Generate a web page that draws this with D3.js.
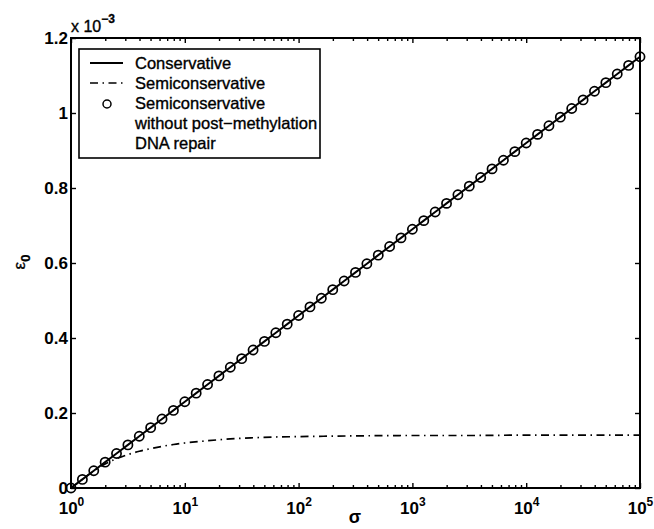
<!DOCTYPE html>
<html>
<head>
<meta charset="utf-8">
<script src="https://cdn.jsdelivr.net/npm/d3@7"></script>
<style>
  body { margin: 0; background: #fff; }
  svg { display: block; font-family: "Liberation Sans", Arial, sans-serif; }
</style>
</head>
<body>
<svg width="654" height="529"></svg>
<script>
// sigma exponents (log10) and epsilon_0 values, in units of 1e-3
var consExp = [0,0.1,0.2,0.3,0.4,0.5,0.6,0.7,0.8,0.9,1,1.1,1.2,1.3,1.4,1.5,1.6,1.7,1.8,1.9,
  2,2.1,2.2,2.3,2.4,2.5,2.6,2.7,2.8,2.9,3,3.1,3.2,3.3,3.4,3.5,3.6,3.7,3.8,3.9,
  4,4.1,4.2,4.3,4.4,4.5,4.6,4.7,4.8,4.9,5];
var consVal = [0,0.023,0.046,0.069,0.092,0.115,0.138,0.161,0.184,0.207,0.230,0.253,0.276,0.299,0.322,0.345,0.368,0.391,0.414,0.437,
  0.460,0.483,0.506,0.529,0.552,0.575,0.598,0.621,0.644,0.667,0.690,0.713,0.736,0.759,0.782,0.805,0.828,0.851,0.874,0.897,
  0.920,0.943,0.966,0.989,1.012,1.035,1.058,1.081,1.104,1.127,1.150];
// semiconservative without repair: same as conservative (markers)
var semiNoRepairVal = consVal;
var semiExp = [0,0.1,0.2,0.3,0.4,0.5,0.6,0.7,0.8,0.9,1.0,1.2,1.4,1.6,1.8,2.0,2.5,3.0,3.5,4.0,4.5,5.0];
var semiVal = [0,0.023,0.045,0.064,0.078,0.089,0.098,0.105,0.111,0.116,0.120,0.126,0.131,0.134,0.136,0.137,0.139,0.140,0.140,0.141,0.141,0.141];

var yTicks = [0,0.2,0.4,0.6,0.8,1,1.2];
var yTickLabels = ["0","0.2","0.4","0.6","0.8","1","1.2"];
var xTicks = [1,10,100,1000,10000,100000];
var xTickExp = ["0","1","2","3","4","5"];
var legendLabels = ["Conservative","Semiconservative","Semiconservative","without post\u2212methylation","DNA repair"];

var pL = 71, pR = 640, pT = 38, pB = 488;
var svg = d3.select("svg");
var x = d3.scaleLog().domain([1,1e5]).range([pL,pR]);
var y = d3.scaleLinear().domain([0,1.2]).range([pB,pT]);

var minor = x.ticks().filter(function(t){ return xTicks.indexOf(t) < 0; });

// box
svg.append("rect").attr("x",pL).attr("y",pT).attr("width",pR-pL).attr("height",pB-pT)
  .attr("fill","none").attr("stroke","#000").attr("stroke-width",2);

function tickLines(g){ g.select(".domain").remove(); g.selectAll("line").attr("stroke","#000").attr("stroke-width",1.4); }

svg.append("g").attr("transform","translate(0,"+pB+")")
  .call(d3.axisBottom(x).tickValues(minor).tickSize(-3).tickFormat("")).call(tickLines);
svg.append("g").attr("transform","translate(0,"+pT+")")
  .call(d3.axisTop(x).tickValues(minor).tickSize(-3).tickFormat("")).call(tickLines);
svg.append("g").attr("transform","translate(0,"+pT+")")
  .call(d3.axisTop(x).tickValues(xTicks).tickSize(-5).tickFormat("")).call(tickLines);

var xb = svg.append("g").attr("transform","translate(0,"+pB+")")
  .call(d3.axisBottom(x).tickValues(xTicks).tickSize(-5).tickPadding(0).tickFormat(function(){ return ""; }))
  .call(tickLines);
xb.selectAll(".tick").each(function(d,i){
  var t = d3.select(this).select("text").attr("fill","#000").attr("y",26).attr("dy",null)
    .attr("font-size",17).attr("font-weight","bold").attr("text-anchor","middle");
  t.append("tspan").text("10");
  t.append("tspan").attr("dy",-8).attr("font-size",12).text(xTickExp[i]);
});

svg.append("g").attr("transform","translate("+pL+",0)")
  .call(d3.axisLeft(y).tickValues(yTicks).tickSize(-5).tickPadding(3).tickFormat(function(d,i){ return yTickLabels[i]; }))
  .call(tickLines)
  .selectAll("text").attr("fill","#000").attr("font-size",17).attr("font-weight","bold");
svg.append("g").attr("transform","translate("+pR+",0)")
  .call(d3.axisRight(y).tickValues(yTicks).tickSize(-5).tickFormat("")).call(tickLines);

// exponent marker
var ex = svg.append("text").attr("x",71).attr("y",32).attr("font-size",16).attr("fill","#000")
  .attr("stroke","#000").attr("stroke-width",0.35);
ex.append("tspan").text("x 10");
ex.append("tspan").attr("dy",-9).attr("font-size",12).attr("font-weight","bold").text("\u22123");

// axis labels
var yl = svg.append("text").attr("transform","translate(25,262) rotate(-90)").attr("text-anchor","middle")
  .attr("font-size",17).attr("fill","#000").attr("stroke","#000").attr("stroke-width",0.3);
yl.append("tspan").text("\u03b5");
yl.append("tspan").attr("dy",5).attr("font-size",13).attr("font-weight","bold").text("0");
svg.append("text").attr("x",355).attr("y",523).attr("text-anchor","middle").attr("font-size",18)
  .attr("fill","#000").attr("font-weight","bold").text("\u03c3");

// series
var line = d3.line().x(function(d){ return x(Math.pow(10,d[0])); }).y(function(d){ return y(d[1]); });
svg.append("path").datum(d3.zip(consExp,consVal)).attr("d",line)
  .attr("fill","none").attr("stroke","#000").attr("stroke-width",1.9);
svg.append("path").datum(d3.zip(semiExp,semiVal)).attr("d",line.curve(d3.curveMonotoneX))
  .attr("fill","none").attr("stroke","#000").attr("stroke-width",1.7).attr("stroke-dasharray","8,4.5,1.5,4.5");
svg.append("g").selectAll("circle").data(d3.zip(consExp,semiNoRepairVal)).enter().append("circle")
  .attr("cx",function(d){ return x(Math.pow(10,d[0])); }).attr("cy",function(d){ return y(d[1]); })
  .attr("r",4.6).attr("fill","none").attr("stroke","#000").attr("stroke-width",1.7);

// legend
var lg = svg.append("g");
lg.append("rect").attr("x",79).attr("y",49).attr("width",241).attr("height",109)
  .attr("fill","#fff").attr("stroke","#000").attr("stroke-width",1.6);
lg.append("line").attr("x1",90).attr("x2",123).attr("y1",63).attr("y2",63).attr("stroke","#000").attr("stroke-width",1.9);
lg.append("line").attr("x1",90).attr("x2",123).attr("y1",83).attr("y2",83).attr("stroke","#000").attr("stroke-width",1.7)
  .attr("stroke-dasharray","8,4.5,1.5,4.5");
lg.append("circle").attr("cx",107).attr("cy",104).attr("r",4).attr("fill","none").attr("stroke","#000").attr("stroke-width",1.5);
lg.selectAll("text.lab").data(legendLabels).enter().append("text").attr("class","lab")
  .attr("x",135).attr("y",function(d,i){ return 69 + i*20; }).attr("font-size",16.5).attr("fill","#000")
  .attr("stroke","#000").attr("stroke-width",0.35).text(function(d){ return d; });
</script>
</body>
</html>
